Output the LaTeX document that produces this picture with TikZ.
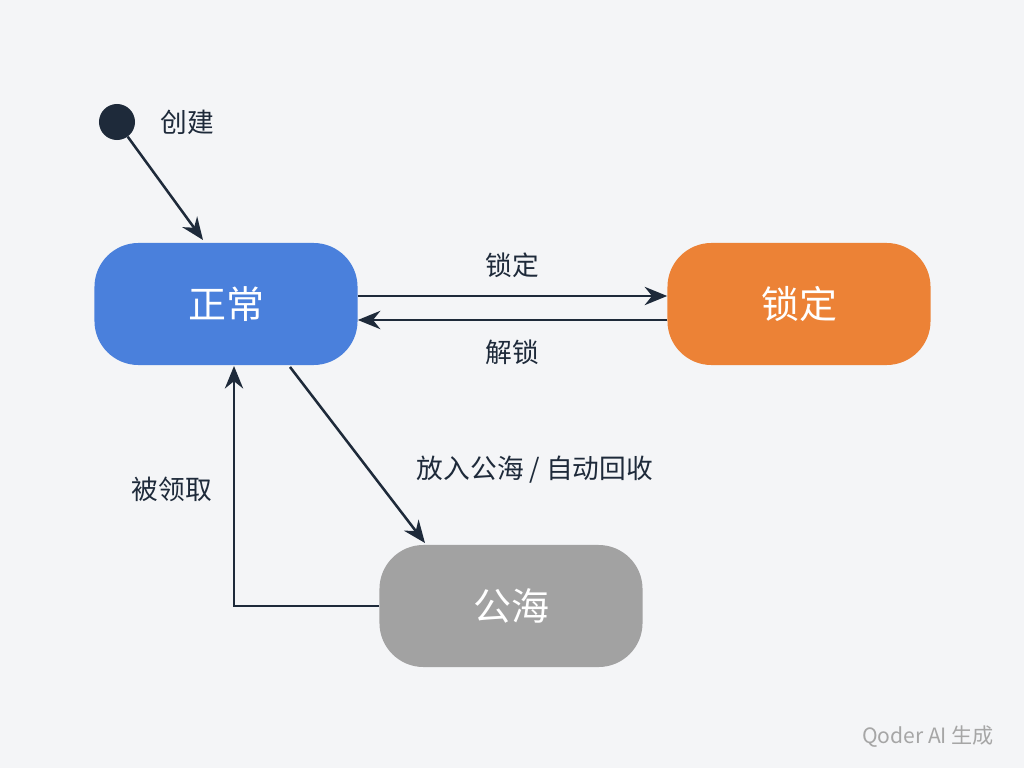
\documentclass[tikz,border=0pt]{standalone}
\usepackage{fontspec}
\setmainfont{Noto Sans CJK SC}
\usetikzlibrary{arrows.meta,positioning}
\definecolor{ink}{HTML}{1E2A3A}
\definecolor{normblue}{HTML}{4A80DC}
\definecolor{lockorange}{HTML}{EC8236}
\definecolor{poolgray}{HTML}{A2A2A2}
\definecolor{bgcol}{HTML}{F4F5F7}
\tikzset{
  state/.style={rounded corners=1.1cm,minimum width=6.575cm,minimum height=3.05cm,
    text=white,font=\fontsize{27}{32}\selectfont},
  trans/.style={draw=ink,line width=1.8pt,-{Stealth[length=16pt,width=13pt]}},
  lbl/.style={text=ink,font=\fontsize{19}{23}\selectfont}
}
\begin{document}
\begin{tikzpicture}[x=0.025cm,y=-0.025cm]
  \fill[bgcol] (0,0) rectangle (1024,768);
  \node[circle,fill=ink,minimum size=0.9cm,inner sep=0] (init) at (117,122) {};
  \node[lbl] (create) at (187,122) {创建};
  \node[state,fill=normblue] (normal) at (226,304) {正常};
  \node[state,fill=lockorange] (locked) at (799,304) {锁定};
  \node[state,fill=poolgray] (pool) at (511,606) {公海};
  \coordinate (corner) at (234,606);
  % transitions
  \draw[trans] (init) -- (203,240);
  \draw[trans] ([yshift=0.2cm]normal.east) -- ([yshift=0.2cm]locked.west);
  \draw[trans] ([yshift=-0.4cm]locked.west) -- ([yshift=-0.4cm]normal.east);
  \draw[trans] (290,367) -- (425,543);
  \draw[trans] (pool.west) -- (corner) -- (234,366);
  % labels
  \node[lbl] at (512,265) {锁定};
  \node[lbl] at (512,352) {解锁};
  \node[lbl] at (535,470) {放入公海 / 自动回收};
  \node[lbl] at (172,489) {被领取};
  \node[text=gray!70,font=\fontsize{15}{18}\selectfont] at (928,737) {Qoder AI 生成};
\end{tikzpicture}
\end{document}
